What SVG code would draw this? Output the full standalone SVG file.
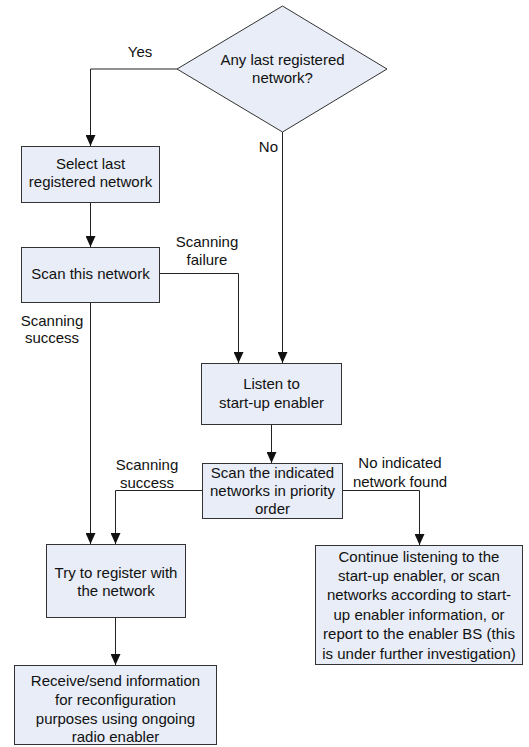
<svg xmlns="http://www.w3.org/2000/svg" width="529" height="747" viewBox="0 0 529 747">
<style>
.box{fill:#E8EDF7;stroke:#333;stroke-width:1}
.t{font-family:"Liberation Sans",Arial,sans-serif;font-size:15px;fill:#111;text-anchor:middle}
.c{fill:none;stroke:#222;stroke-width:1}
</style>
<defs>
<marker id="arr" viewBox="0 0 11 10" refX="11" refY="5" markerWidth="11" markerHeight="10" markerUnits="userSpaceOnUse" orient="auto">
<path d="M0,0 L11,5 L0,10 z" fill="#111"/>
</marker>
</defs>
<rect width="529" height="747" fill="#fff"/>
<g id="connectors">
<polyline class="c" points="177,69 90.5,69 90.5,146" marker-end="url(#arr)"/>
<line class="c" x1="282.5" y1="132" x2="282.5" y2="363" marker-end="url(#arr)"/>
<line class="c" x1="90.5" y1="202" x2="90.5" y2="247" marker-end="url(#arr)"/>
<polyline class="c" points="159,273.5 238.5,273.5 238.5,363" marker-end="url(#arr)"/>
<line class="c" x1="90.5" y1="302" x2="90.5" y2="544" marker-end="url(#arr)"/>
<line class="c" x1="271.5" y1="424" x2="271.5" y2="463" marker-end="url(#arr)"/>
<polyline class="c" points="202,490.5 115.5,490.5 115.5,544" marker-end="url(#arr)"/>
<polyline class="c" points="342,490.5 419.5,490.5 419.5,545" marker-end="url(#arr)"/>
<line class="c" x1="115.5" y1="617" x2="115.5" y2="665" marker-end="url(#arr)"/>
<text class="t" x="140" y="57">Yes</text>
<text class="t" x="278" y="152" style="text-anchor:end">No</text>
<text class="t" x="207" y="247">Scanning</text>
<text class="t" x="207" y="265">failure</text>
<text class="t" x="52" y="326">Scanning</text>
<text class="t" x="52" y="343">success</text>
<text class="t" x="147" y="470">Scanning</text>
<text class="t" x="147" y="488">success</text>
<text class="t" x="400" y="468">No indicated</text>
<text class="t" x="400" y="487">network found</text>
</g>
<g id="decision">
<polygon class="box" points="282.5,6 387,69 282.5,132 177,69"/>
<text class="t" x="282.5" y="65">Any last registered</text>
<text class="t" x="282.5" y="83">network?</text>
</g>
<g id="select">
<rect class="box" x="21.5" y="146.5" width="138" height="56"/>
<text class="t" x="90.5" y="169">Select last</text>
<text class="t" x="90.5" y="187">registered network</text>
</g>
<g id="scan">
<rect class="box" x="21.5" y="247.5" width="138" height="55"/>
<text class="t" x="90.5" y="279">Scan this network</text>
</g>
<g id="listen">
<rect class="box" x="201.5" y="363.5" width="140" height="61"/>
<text class="t" x="271.5" y="389">Listen to</text>
<text class="t" x="271.5" y="408">start-up enabler</text>
</g>
<g id="scanIndicated">
<rect class="box" x="202.5" y="463.5" width="140" height="55"/>
<text class="t" x="272.5" y="478">Scan the indicated</text>
<text class="t" x="272.5" y="496">networks in priority</text>
<text class="t" x="272.5" y="514">order</text>
</g>
<g id="tryRegister">
<rect class="box" x="46.5" y="544.5" width="139" height="73"/>
<text class="t" x="116" y="578">Try to register with</text>
<text class="t" x="116" y="596">the network</text>
</g>
<g id="continue">
<rect class="box" x="315.5" y="545.5" width="207" height="119"/>
<text class="t" x="419" y="562">Continue listening to the</text>
<text class="t" x="419" y="581">start-up enabler, or scan</text>
<text class="t" x="419" y="600">networks according to start-</text>
<text class="t" x="419" y="620">up enabler information, or</text>
<text class="t" x="419" y="639">report to the enabler BS (this</text>
<text class="t" x="419" y="659">is under further investigation)</text>
</g>
<g id="receive">
<rect class="box" x="14.5" y="665.5" width="202" height="79"/>
<text class="t" x="115.5" y="686">Receive/send information</text>
<text class="t" x="115.5" y="705">for reconfiguration</text>
<text class="t" x="115.5" y="724">purposes using ongoing</text>
<text class="t" x="115.5" y="742">radio enabler</text>
</g>
</svg>
